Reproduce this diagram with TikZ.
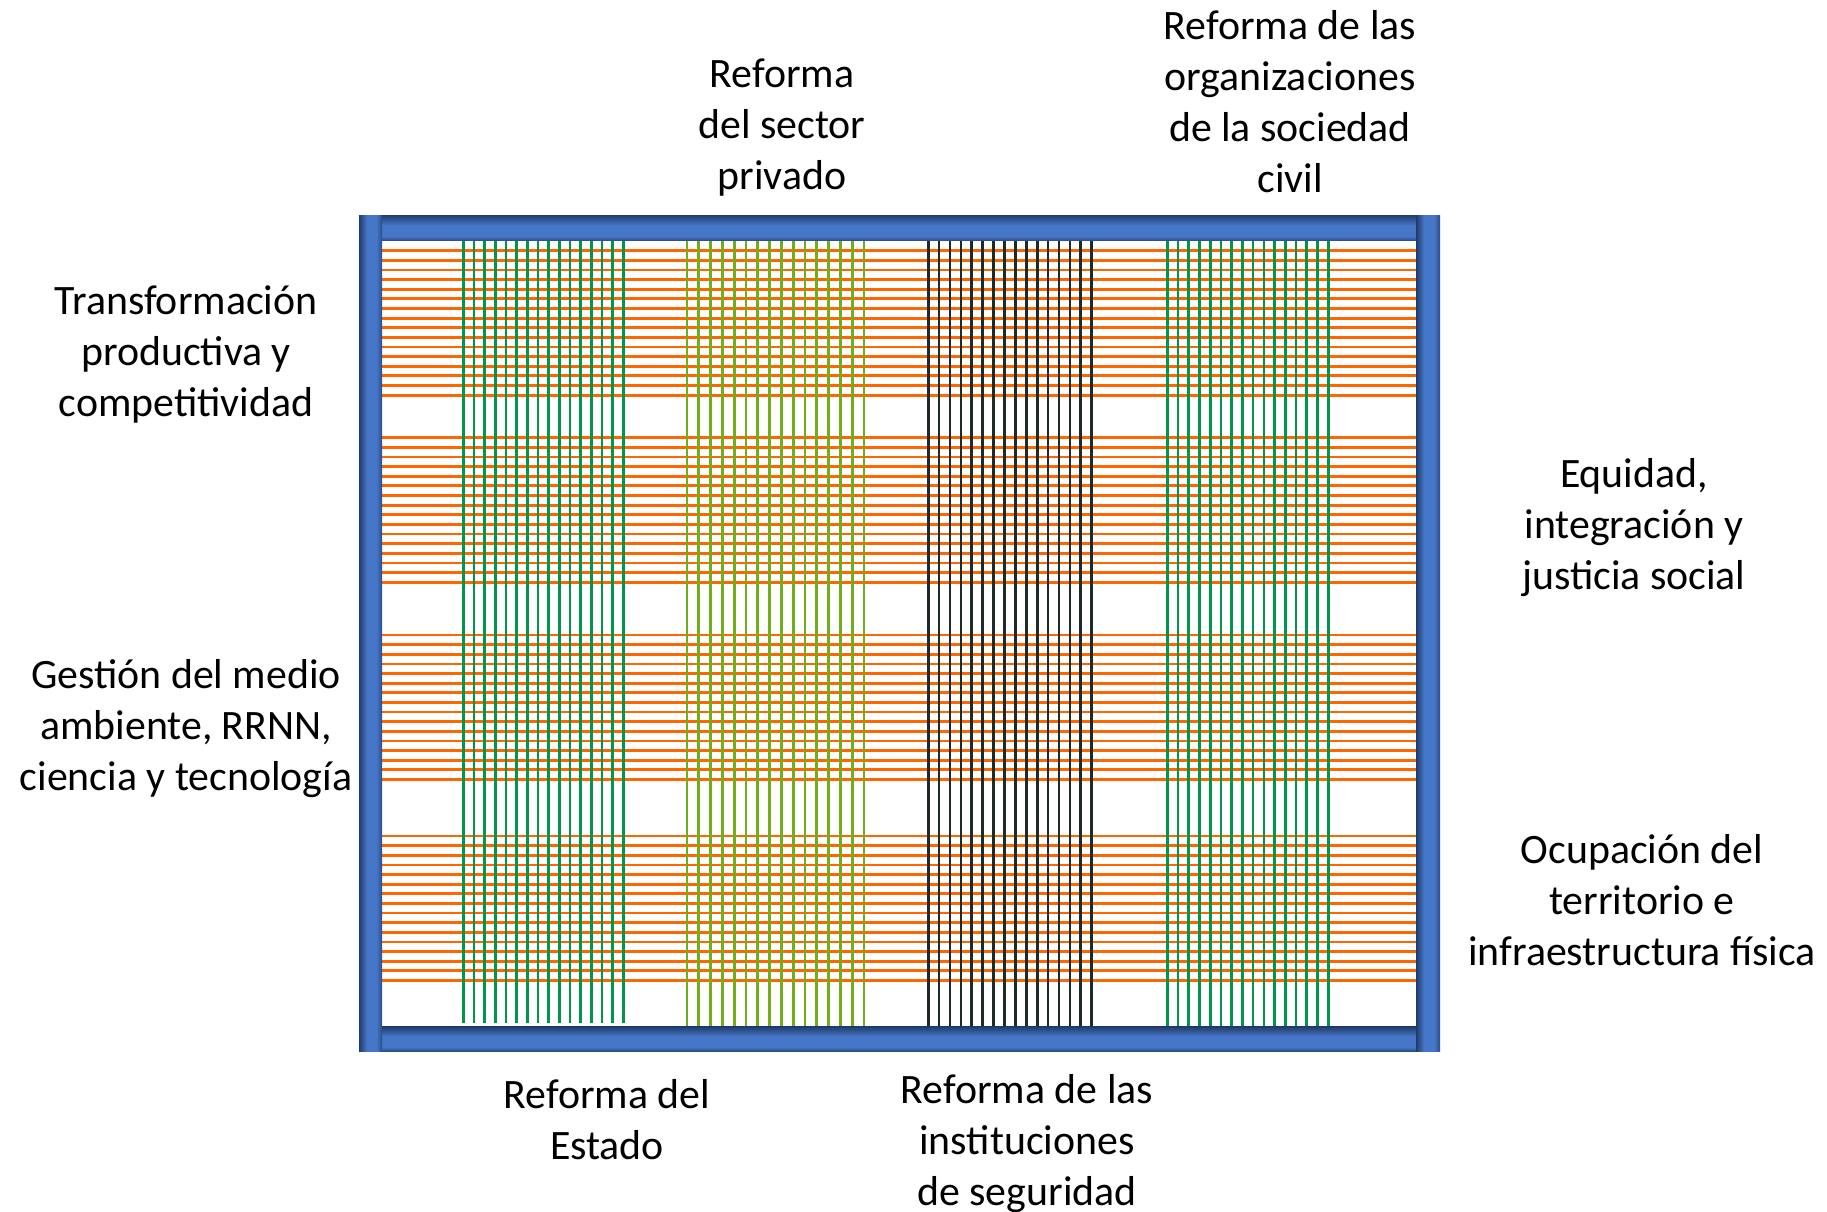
\documentclass[tikz,border=0pt]{standalone}
\usepackage{fontspec}
\setmainfont{Carlito}
\definecolor{orng}{HTML}{FF6600}
\definecolor{grn}{HTML}{00964B}
\definecolor{lgrn}{HTML}{72AE1A}
\definecolor{blk}{HTML}{1E2A28}
\definecolor{bdark}{HTML}{203C6C}
\definecolor{bmid}{HTML}{4676C8}
\definecolor{bedge}{HTML}{2A4D88}
\pgfdeclareverticalshading{barshade}{100bp}{color(0bp)=(bedge); color(25bp)=(bedge); color(33bp)=(bmid); color(55bp)=(bmid); color(75bp)=(bdark); color(100bp)=(bdark)}
\pgfdeclarehorizontalshading{postshade}{100bp}{color(0bp)=(bdark); color(25bp)=(bdark); color(42bp)=(bmid); color(63bp)=(bmid); color(75bp)=(bedge); color(100bp)=(bedge)}
\begin{document}
\begin{tikzpicture}[x=0.01cm,y=-0.01cm,
  hline/.style={draw=orng, line width=0.8pt},
  vline/.style={line width=0.75pt},
  lbl/.style={align=center, font=\fontsize{11.9}{14.5}\selectfont, inner sep=0pt, text=black}]
\useasboundingbox (0,0) rectangle (1827,1211);
% horizontal orange bands
\foreach \b in {250.7,437.7,635,836}{
  \foreach \i in {0,...,15}{
    \draw[hline] (382,\b+\i*9.63) -- (1416,\b+\i*9.63);
  }
}
% vertical groups
\foreach \i in {0,...,15}{
  \draw[vline, draw=grn]  (463.3+\i*10.67,240) -- (463.3+\i*10.67,1023);
  \draw[vline, draw=lgrn] (687+\i*11.8,240) -- (687+\i*11.8,1027);
  \draw[vline, draw=blk]  (928.2+\i*10.9,240) -- (928.2+\i*10.9,1027);
  \draw[vline, draw=grn]  (1167.3+\i*10.73,240) -- (1167.3+\i*10.73,1027);
}
% frame bars
\shade[shading=barshade] (382,215) rectangle (1416,240.5);
\shade[shading=barshade] (382,1026.7) rectangle (1416,1051);
% frame posts
\shade[shading=postshade] (359,215) rectangle (382,1051);
\shade[shading=postshade] (1416,215) rectangle (1440,1051);
% labels
\node[lbl] (privado) at (782,128) {Reforma\\del sector\\privado};
\node[lbl] (civil) at (1290,102) {Reforma de las\\organizaciones\\de la sociedad\\civil};
\node[lbl] (transf) at (186,354) {Transformación\\productiva y\\competitividad};
\node[lbl] (gestion) at (186,729) {Gestión del medio\\ambiente, RRNN,\\ciencia y tecnología};
\node[lbl] (equidad) at (1634,528) {Equidad,\\integración y\\justicia social};
\node[lbl] (ocup) at (1642,900) {Ocupación del\\territorio e\\infraestructura física};
\node[lbl] (estado) at (607,1120) {Reforma del\\Estado};
\node[lbl] (segur) at (1027,1144) {Reforma de las\\instituciones\\de seguridad};
\end{tikzpicture}
\end{document}
